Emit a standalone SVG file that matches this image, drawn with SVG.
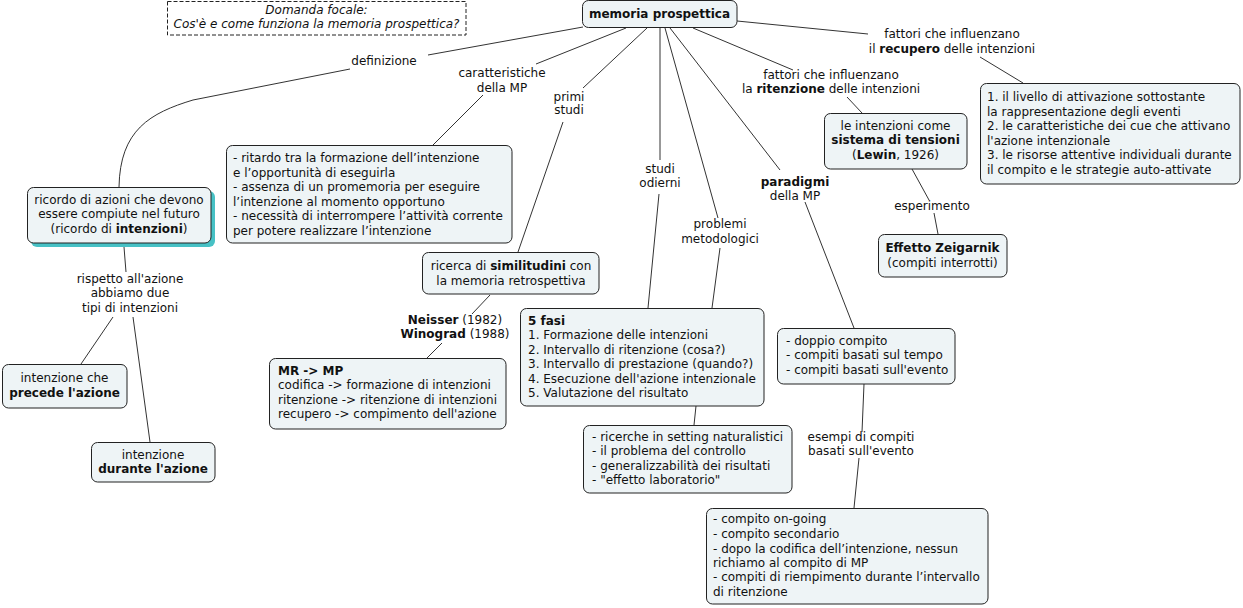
<svg xmlns="http://www.w3.org/2000/svg" width="1243" height="608" viewBox="0 0 1243 608">
<style>
.n{fill:#eef4f6;stroke:#222;stroke-width:1}
.t{font-family:"DejaVu Sans",Verdana,sans-serif;font-size:12px;fill:#111}
.c{text-anchor:middle}
.b{font-weight:bold}
.l{stroke:#333;stroke-width:1;fill:none}
</style>
<rect width="1243" height="608" fill="#ffffff"/>
<g id="connectors" class="l">
<path d="M583,27 L428,55"/>
<path d="M350,69 L193,100 C150,113 120,130 119,187"/>
<path d="M626,28 L536,64"/>
<path d="M483,95 L433,145"/>
<path d="M647,28 L583,88"/>
<path d="M563,122 L518,252"/>
<path d="M490,295 L472,314"/>
<path d="M442,343 L427,358"/>
<path d="M124,247 L126,272"/>
<path d="M113,317 L81,364"/>
<path d="M133,317 L150,442"/>
<path d="M660,28 L660,160"/>
<path d="M659,194 L648,308"/>
<path d="M665,28 L718,218"/>
<path d="M720,248 L712,308"/>
<path d="M696,406 L694,425"/>
<path d="M670,28 L780,170"/>
<path d="M805,202 L854,328"/>
<path d="M864,384 L862,432"/>
<path d="M859,458 L854,508"/>
<path d="M693,28 L793,70"/>
<path d="M847,97 L862,113"/>
<path d="M912,169 L929,200"/>
<path d="M934,213 L938,234"/>
<path d="M737,21 L868,34"/>
<path d="M980,57 L1023,83"/>
</g>
<g id="focus">
<rect x="167.5" y="1.5" width="298.5" height="33.5" fill="#ffffff" stroke="#222" stroke-width="1" stroke-dasharray="4,2"/>
<text class="t c" font-style="italic" x="316.5" y="14">Domanda focale:</text>
<text class="t c" font-style="italic" x="316.5" y="28">Cos'è e come funziona la memoria prospettica?</text>
</g>
<g id="root">
<rect class="n" x="582.5" y="0.5" width="154.5" height="27" rx="6"/>
<text class="t c b" x="659.5" y="18">memoria prospettica</text>
</g>
<g id="ricordo">
<rect x="31" y="191" width="184" height="56" rx="6" fill="#47c1c5"/>
<rect class="n" x="27.5" y="187.5" width="183.5" height="55.5" rx="6"/>
<text class="t c" x="119" y="204">ricordo di azioni che devono</text>
<text class="t c" x="119" y="218">essere compiute nel futuro</text>
<text class="t c" x="119" y="233">(ricordo di <tspan class="b">intenzioni</tspan>)</text>
</g>
<g id="caratteristiche-box">
<rect class="n" x="226.5" y="145.5" width="285.5" height="97.5" rx="6"/>
<text class="t" x="233" y="162">- ritardo tra la formazione dell’intenzione</text>
<text class="t" x="233" y="177">e l’opportunità di eseguirla</text>
<text class="t" x="233" y="191">- assenza di un promemoria per eseguire</text>
<text class="t" x="233" y="206">l’intenzione al momento opportuno</text>
<text class="t" x="233" y="220">- necessità di interrompere l’attività corrente</text>
<text class="t" x="233" y="235">per potere realizzare l’intenzione</text>
</g>
<g id="ricerca">
<rect class="n" x="422.5" y="252.5" width="176.5" height="41.5" rx="6"/>
<text class="t c" x="511" y="270">ricerca di <tspan class="b">similitudini</tspan> con</text>
<text class="t c" x="511" y="285">la memoria retrospettiva</text>
</g>
<g id="mr">
<rect class="n" x="269.5" y="358.5" width="236.5" height="70.5" rx="6"/>
<text class="t b" x="278" y="375">MR -&gt; MP</text>
<text class="t" x="278" y="389">codifica -&gt; formazione di intenzioni</text>
<text class="t" x="278" y="404">ritenzione -&gt; ritenzione di intenzioni</text>
<text class="t" x="278" y="418">recupero -&gt; compimento dell'azione</text>
</g>
<g id="precede">
<rect class="n" x="2.5" y="364.5" width="124.5" height="43.5" rx="6"/>
<text class="t c" x="64.5" y="382">intenzione che</text>
<text class="t c b" x="64.5" y="397">precede l'azione</text>
</g>
<g id="durante">
<rect class="n" x="91.5" y="442.5" width="123.5" height="39.5" rx="6"/>
<text class="t c" x="153" y="459">intenzione</text>
<text class="t c b" x="153" y="473">durante l'azione</text>
</g>
<g id="fasi">
<rect class="n" x="520.5" y="308.5" width="243.5" height="97.5" rx="6"/>
<text class="t b" x="528" y="325">5 fasi</text>
<text class="t" x="528" y="339">1. Formazione delle intenzioni</text>
<text class="t" x="528" y="354">2. Intervallo di ritenzione (cosa?)</text>
<text class="t" x="528" y="368">3. Intervallo di prestazione (quando?)</text>
<text class="t" x="528" y="383">4. Esecuzione dell'azione intenzionale</text>
<text class="t" x="528" y="397">5. Valutazione del risultato</text>
</g>
<g id="problemi-box">
<rect class="n" x="583.5" y="425.5" width="208.5" height="67.5" rx="6"/>
<text class="t" x="592" y="441">- ricerche in setting naturalistici</text>
<text class="t" x="592" y="455">- il problema del controllo</text>
<text class="t" x="592" y="470">- generalizzabilità dei risultati</text>
<text class="t" x="592" y="484">- "effetto laboratorio"</text>
</g>
<g id="paradigmi-box">
<rect class="n" x="777.5" y="328.5" width="177.5" height="55.5" rx="6"/>
<text class="t" x="786" y="345">- doppio compito</text>
<text class="t" x="786" y="359">- compiti basati sul tempo</text>
<text class="t" x="786" y="374">- compiti basati sull'evento</text>
</g>
<g id="esempi-box">
<rect class="n" x="706.5" y="508.5" width="281.5" height="95.5" rx="6"/>
<text class="t" x="713" y="523">- compito on-going</text>
<text class="t" x="713" y="538">- compito secondario</text>
<text class="t" x="713" y="553">- dopo la codifica dell’intenzione, nessun</text>
<text class="t" x="713" y="567">richiamo al compito di MP</text>
<text class="t" x="713" y="581">- compiti di riempimento durante l’intervallo</text>
<text class="t" x="713" y="596">di ritenzione</text>
</g>
<g id="lewin">
<rect class="n" x="824.5" y="113.5" width="142.5" height="55.5" rx="6"/>
<text class="t c" x="895.5" y="130">le intenzioni come</text>
<text class="t c b" x="895.5" y="144">sistema di tensioni</text>
<text class="t c" x="895.5" y="159">(<tspan class="b">Lewin</tspan>, 1926)</text>
</g>
<g id="zeigarnik">
<rect class="n" x="878.5" y="234.5" width="128.5" height="42.5" rx="6"/>
<text class="t c b" x="942.5" y="252">Effetto Zeigarnik</text>
<text class="t c" x="942.5" y="267">(compiti interrotti)</text>
</g>
<g id="recupero-box">
<rect class="n" x="980.5" y="83.5" width="259.5" height="100.5" rx="6"/>
<text class="t" x="987" y="101">1. il livello di attivazione sottostante</text>
<text class="t" x="987" y="116">la rappresentazione degli eventi</text>
<text class="t" x="987" y="130">2. le caratteristiche dei cue che attivano</text>
<text class="t" x="987" y="145">l'azione intenzionale</text>
<text class="t" x="987" y="159">3. le risorse attentive individuali durante</text>
<text class="t" x="987" y="174">il compito e le strategie auto-attivate</text>
</g>
<g id="labels">
<g id="lbl-definizione"><text class="t c" x="384" y="65">definizione</text></g>
<g id="lbl-caratteristiche"><text class="t c" x="502" y="77">caratteristiche</text><text class="t c" x="502" y="92">della MP</text></g>
<g id="lbl-primi"><text class="t c" x="569" y="101">primi</text><text class="t c" x="569" y="114">studi</text></g>
<g id="lbl-studi"><text class="t c" x="660" y="173">studi</text><text class="t c" x="660" y="187">odierni</text></g>
<g id="lbl-problemi"><text class="t c" x="720" y="228">problemi</text><text class="t c" x="720" y="243">metodologici</text></g>
<g id="lbl-paradigmi"><text class="t c b" x="795" y="186">paradigmi</text><text class="t c" x="795" y="200">della MP</text></g>
<g id="lbl-ritenzione"><text class="t c" x="831" y="79">fattori che influenzano</text><text class="t c" x="831" y="93">la <tspan class="b">ritenzione</tspan> delle intenzioni</text></g>
<g id="lbl-recupero"><text class="t c" x="952" y="38">fattori che influenzano</text><text class="t c" x="952" y="53">il <tspan class="b">recupero</tspan> delle intenzioni</text></g>
<g id="lbl-esperimento"><text class="t c" x="932" y="210">esperimento</text></g>
<g id="lbl-rispetto"><text class="t c" x="130" y="283">rispetto all'azione</text><text class="t c" x="130" y="297">abbiamo due</text><text class="t c" x="130" y="312">tipi di intenzioni</text></g>
<g id="lbl-neisser"><text class="t c" x="455" y="324"><tspan class="b">Neisser</tspan> (1982)</text><text class="t c" x="455" y="338"><tspan class="b">Winograd</tspan> (1988)</text></g>
<g id="lbl-esempi"><text class="t c" x="861" y="441">esempi di compiti</text><text class="t c" x="861" y="455">basati sull'evento</text></g>
</g>
</svg>
